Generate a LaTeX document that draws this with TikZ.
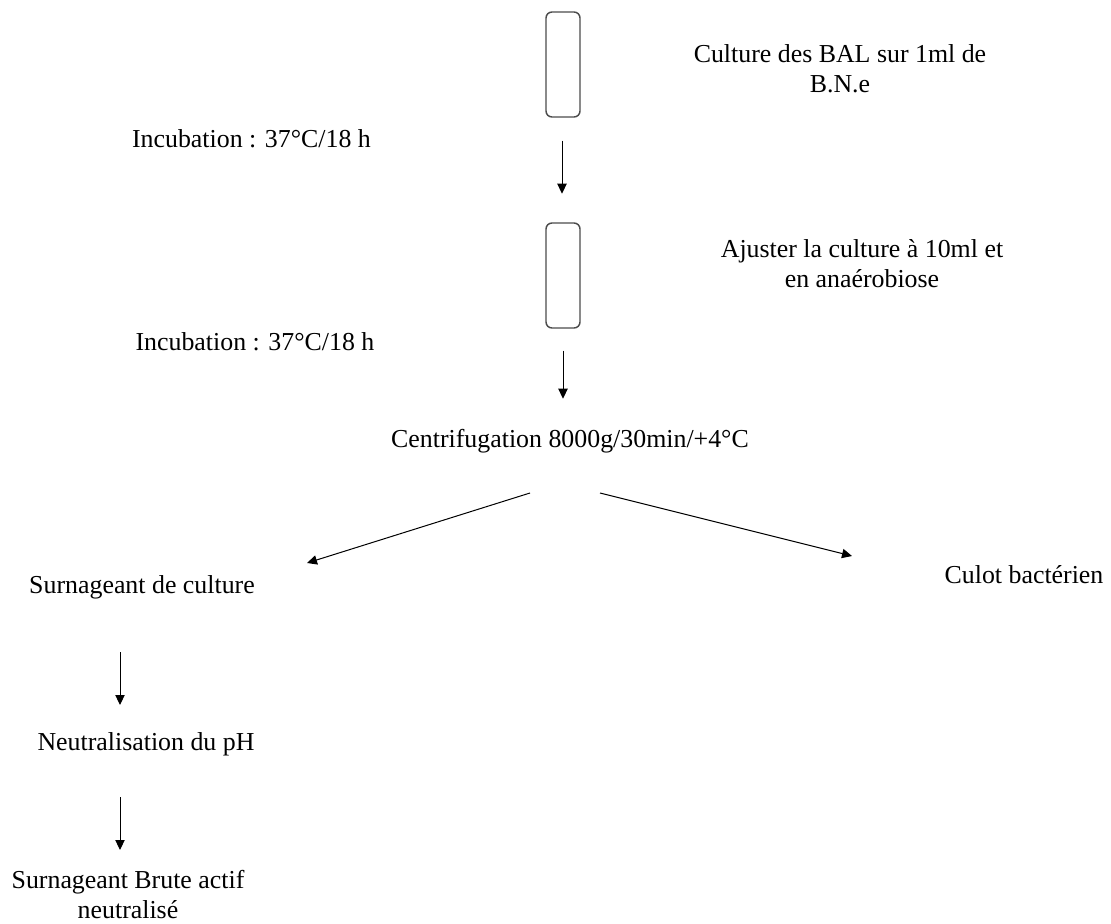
\documentclass[tikz,border=0pt]{standalone}
\usepackage{fontspec}
\setmainfont{Liberation Serif}
\usetikzlibrary{arrows.meta}
\begin{document}
\begin{tikzpicture}[x=0.75pt,y=-0.75pt,
  lbl/.style={inner sep=0pt,align=center,font=\fontsize{19.4}{22.5}\selectfont,anchor=base},
  tube/.style={draw=black!70,line width=1.1pt,rounded corners=4.5pt,minimum width=25.5pt,minimum height=78.75pt,inner sep=0pt},
  arr/.style={-{Triangle[length=7.5pt,width=7pt]},line width=0.75pt}]
\useasboundingbox (0,0) rectangle (1111,924);
\node[tube] (t1) at (563,64.5) {};
\node[tube] (t2) at (563,275.5) {};
\node[lbl] (inc1) at (251.5,147) {Incubation : 37°C/18 h};
\node[lbl] (inc2) at (255,350) {Incubation : 37°C/18 h};
\node[lbl] (cult) at (840,93) {Culture des BAL sur 1ml de\\B.N.e};
\node[lbl] (ajust) at (862,287) {Ajuster la culture à 10ml et\\en anaérobiose};
\node[lbl] (centri) at (570,447) {Centrifugation 8000g/30min/+4°C};
\node[lbl] (surn) at (142,593) {Surnageant de culture};
\node[lbl] (culot) at (1024,583) {Culot bactérien};
\node[lbl] (neut) at (146,750) {Neutralisation du pH};
\node[lbl] (brute) at (128,918) {Surnageant Brute actif\\neutralisé};
\coordinate (cL) at (530,493);
\coordinate (cR) at (600,493);
\coordinate (sL) at (307,563);
\coordinate (sR) at (852,556);
\coordinate (nA) at (120,652);
\coordinate (nB) at (120,797);
\draw[arr] (t1.south) ++(-1,23) -- ++(0,53);
\draw[arr] (t2.south) ++(0,22) -- ++(0,48);
\draw[arr] (cL) -- (sL);
\draw[arr] (cR) -- (sR);
\draw[arr] (nA) -- ++(0,53);
\draw[arr] (nB) -- ++(0,53);
\end{tikzpicture}
\end{document}
